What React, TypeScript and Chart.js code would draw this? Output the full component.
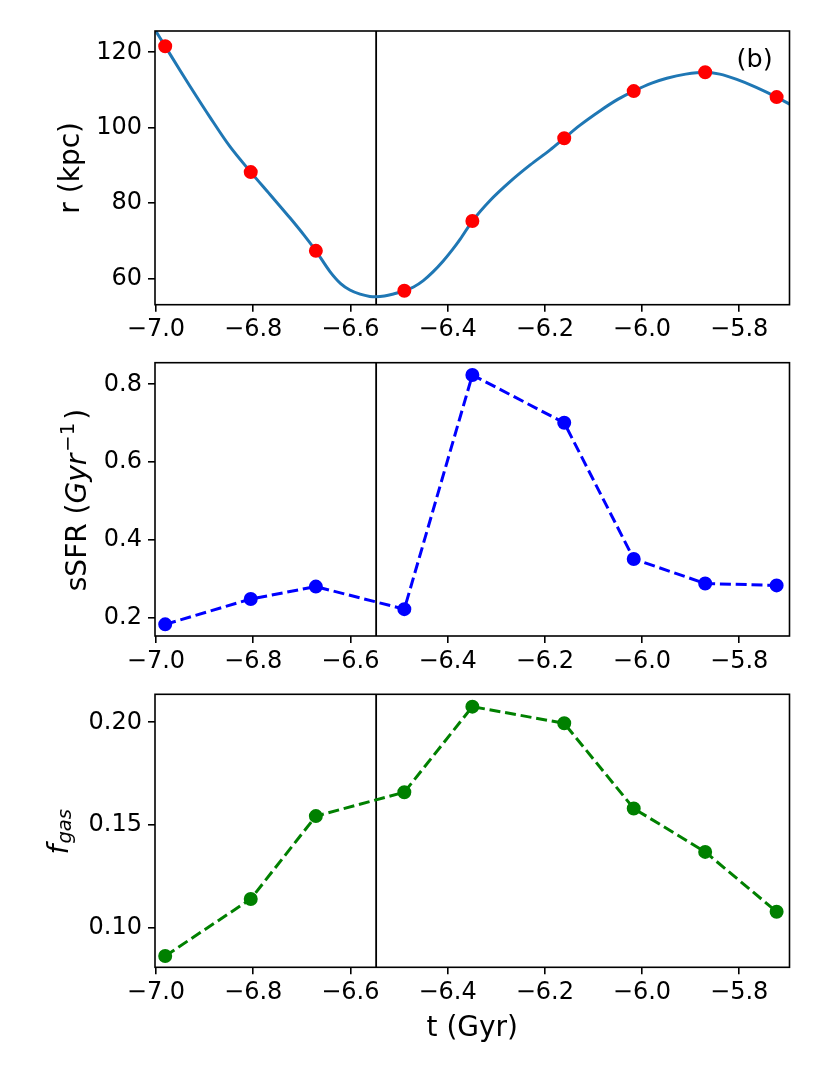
import React, { useEffect, useRef } from "react";
import { Chart, registerables } from "chart.js";

Chart.register(...registerables);

// ---------- data ----------
const tPoints = [-6.981, -6.805, -6.671, -6.489, -6.349, -6.16, -6.017, -5.87, -5.723];
const rPoints = [121.6, 88.2, 67.3, 56.7, 75.2, 97.2, 109.7, 114.7, 108.1];
const ssfrValues = [0.183, 0.248, 0.28, 0.222, 0.824, 0.701, 0.351, 0.288, 0.283];
const fgasValues = [0.0864, 0.1141, 0.1544, 0.166, 0.2076, 0.1995, 0.1581, 0.137, 0.1079];

// smooth orbit curve r(t)
const curveT = [
  -7.003, -6.981, -6.95, -6.93, -6.889, -6.848, -6.805, -6.765, -6.724, -6.695,
  -6.671, -6.642, -6.62, -6.601, -6.58, -6.56, -6.547, -6.53, -6.51, -6.489,
  -6.47, -6.45, -6.43, -6.409, -6.39, -6.374, -6.349, -6.313, -6.272, -6.23,
  -6.189, -6.16, -6.128, -6.086, -6.05, -6.017, -5.98, -5.949, -5.91, -5.87,
  -5.84, -5.805, -5.765, -5.723, -5.69,
];
const curveR = [
  126.2, 121.6, 115.1, 111.0, 102.8, 95.0, 88.2, 82.2, 76.0, 71.4,
  67.3, 61.8, 58.6, 56.9, 55.8, 55.2, 55.1, 55.3, 55.9, 56.7,
  57.7, 59.4, 61.7, 64.6, 67.6, 70.4, 75.2, 80.6, 85.6, 90.1,
  94.1, 97.2, 100.6, 104.5, 107.5, 109.7, 111.8, 113.1, 114.2, 114.7,
  114.2, 112.8, 110.7, 108.1, 105.8,
];

const xTicks = [-7.0, -6.8, -6.6, -6.4, -6.2, -6.0, -5.8];
const rTicks = [60, 80, 100, 120];
const ssfrTicks = [0.2, 0.4, 0.6, 0.8];
const fgasTicks = [0.1, 0.15, 0.2];
const vLineT = -6.547;

const X_MIN = -7.002;
const X_MAX = -5.6965;

const FONT = "'DejaVu Sans', 'Liberation Sans', sans-serif";

type Seg = { text: string; size: number; italic?: boolean; dy?: number; gap?: number };
type TextItem = { text: string; size: number; x: (a: any) => number; y: number; align: CanvasTextAlign };

interface PanelSpec {
  padTop: number;
  xAxisHeight: number;
  yMin: number;
  yMax: number;
  yTicks: number[];
  yDecimals: number;
  datasets: any[];
  ylabel: Seg[];
  ylabelX: number;
  ylabelDy: number;
  texts: TextItem[];
}

const fmt = (v: number, d: number) => v.toFixed(d).replace("-", "\u2212");

function drawRotated(ctx: CanvasRenderingContext2D, segs: Seg[], baseX: number, centerY: number) {
  ctx.save();
  ctx.translate(baseX, centerY);
  ctx.rotate(-Math.PI / 2);
  ctx.fillStyle = "#000";
  ctx.textAlign = "left";
  ctx.textBaseline = "alphabetic";
  const widths: number[] = [];
  let total = 0;
  for (const s of segs) {
    ctx.font = `${s.italic ? "italic " : ""}${s.size}px ${FONT}`;
    const w = ctx.measureText(s.text).width;
    widths.push(w);
    total += w + (s.gap || 0);
  }
  let x = -total / 2;
  segs.forEach((s, i) => {
    x += s.gap || 0;
    ctx.font = `${s.italic ? "italic " : ""}${s.size}px ${FONT}`;
    ctx.fillText(s.text, x, s.dy || 0);
    x += widths[i];
  });
  ctx.restore();
}

function makeChart(canvas: HTMLCanvasElement, p: PanelSpec) {
  const decor = {
    id: "panelDecor",
    beforeDatasetsDraw(chart: any) {
      const { ctx, chartArea, scales } = chart;
      const x = scales.x.getPixelForValue(vLineT);
      ctx.save();
      ctx.beginPath();
      ctx.strokeStyle = "#000";
      ctx.lineWidth = 1.8;
      ctx.moveTo(x, chartArea.top);
      ctx.lineTo(x, chartArea.bottom);
      ctx.stroke();
      ctx.restore();
    },
    afterDraw(chart: any) {
      const { ctx, chartArea } = chart;
      ctx.save();
      ctx.strokeStyle = "#000";
      ctx.lineWidth = 1.6;
      ctx.strokeRect(chartArea.left, chartArea.top, chartArea.right - chartArea.left, chartArea.bottom - chartArea.top);
      ctx.restore();
      drawRotated(ctx, p.ylabel, p.ylabelX, (chartArea.top + chartArea.bottom) / 2 + p.ylabelDy);
      for (const t of p.texts) {
        ctx.save();
        ctx.fillStyle = "#000";
        ctx.font = `${t.size}px ${FONT}`;
        ctx.textAlign = t.align;
        ctx.textBaseline = "alphabetic";
        ctx.fillText(t.text, t.x(chartArea), t.y);
        ctx.restore();
      }
    },
  };

  const tickGrid = {
    display: true,
    drawOnChartArea: false,
    drawTicks: true,
    tickLength: 7,
    tickWidth: 1.6,
    tickColor: "#000",
    color: "#000",
    lineWidth: 1.6,
  };

  return new Chart(canvas, {
    type: "line",
    data: { datasets: p.datasets },
    options: {
      animation: false,
      responsive: true,
      maintainAspectRatio: false,
      events: [],
      layout: { padding: { left: 0, right: 40.5, top: p.padTop, bottom: 0 } },
      plugins: {
        legend: { display: false },
        tooltip: { enabled: false },
        title: { display: false },
      },
      scales: {
        x: {
          type: "linear",
          position: "bottom",
          min: X_MIN,
          max: X_MAX,
          afterBuildTicks: (a: any) => {
            a.ticks = xTicks.map((v) => ({ value: v }));
          },
          afterFit: (a: any) => {
            a.height = p.xAxisHeight;
            a.paddingLeft = 0;
            a.paddingRight = 0;
          },
          grid: tickGrid,
          border: { display: false },
          ticks: {
            color: "#000",
            font: { family: FONT, size: 24 },
            padding: 4,
            maxRotation: 0,
            autoSkip: false,
            callback: (v: any) => fmt(Number(v), 1),
          },
        },
        y: {
          type: "linear",
          position: "left",
          min: p.yMin,
          max: p.yMax,
          afterBuildTicks: (a: any) => {
            a.ticks = p.yTicks.map((v) => ({ value: v }));
          },
          afterFit: (a: any) => {
            a.width = 155;
            a.paddingTop = 0;
            a.paddingBottom = 0;
          },
          grid: tickGrid,
          border: { display: false },
          ticks: {
            color: "#000",
            font: { family: FONT, size: 24 },
            padding: 6,
            autoSkip: false,
            callback: (v: any) => fmt(Number(v), p.yDecimals),
          },
        },
      },
    } as any,
    plugins: [decor],
  });
}

const pts = (ys: number[]) => tPoints.map((t, i) => ({ x: t, y: ys[i] }));

const markerStyle = (color: string) => ({
  pointRadius: 6,
  pointHoverRadius: 6,
  pointBackgroundColor: color,
  pointBorderColor: color,
  pointBorderWidth: 2,
  pointHoverBorderWidth: 2,
});

export default function App() {
  const ref1 = useRef<HTMLCanvasElement>(null);
  const ref2 = useRef<HTMLCanvasElement>(null);
  const ref3 = useRef<HTMLCanvasElement>(null);

  useEffect(() => {
    const c1 = makeChart(ref1.current!, {
      padTop: 31,
      xAxisHeight: 35.3,
      yMin: 53.0,
      yMax: 125.65,
      yTicks: rTicks,
      yDecimals: 0,
      datasets: [
        {
          type: "line",
          data: pts(rPoints),
          showLine: false,
          borderColor: "#ff0000",
          ...markerStyle("#ff0000"),
        },
        {
          type: "line",
          data: curveT.map((t, i) => ({ x: t, y: curveR[i] })),
          borderColor: "#1f77b4",
          borderWidth: 3,
          pointRadius: 0,
          cubicInterpolationMode: "monotone",
          fill: false,
          clip: 0,
        },
      ],
      ylabel: [{ text: "r (kpc)", size: 28 }],
      ylabelX: 79,
      ylabelDy: 0,
      texts: [{ text: "(b)", size: 25.5, x: () => 772.7, y: 66.6, align: "right" }],
    });

    const c2 = makeChart(ref2.current!, {
      padTop: 22.7,
      xAxisHeight: 44,
      yMin: 0.153,
      yMax: 0.8555,
      yTicks: ssfrTicks,
      yDecimals: 1,
      datasets: [
        {
          type: "line",
          data: pts(ssfrValues),
          borderColor: "#0000ff",
          borderWidth: 3,
          borderDash: [11, 4.8],
          tension: 0,
          fill: false,
          ...markerStyle("#0000ff"),
        },
      ],
      ylabel: [
        { text: "sSFR (", size: 28 },
        { text: "Gyr", size: 28, italic: true },
        { text: "\u22121", size: 19.6, dy: -12, gap: 2 },
        { text: ")", size: 28, gap: 3 },
      ],
      ylabelX: 86.3,
      ylabelDy: 0.7,
      texts: [],
    });

    const c3 = makeChart(ref3.current!, {
      padTop: 14.3,
      xAxisHeight: 107.7,
      yMin: 0.0809,
      yMax: 0.2136,
      yTicks: fgasTicks,
      yDecimals: 2,
      datasets: [
        {
          type: "line",
          data: pts(fgasValues),
          borderColor: "#008000",
          borderWidth: 3,
          borderDash: [11, 4.8],
          tension: 0,
          fill: false,
          ...markerStyle("#008000"),
        },
      ],
      ylabel: [
        { text: "f", size: 28, italic: true },
        { text: "gas", size: 19.6, italic: true, dy: 2.5, gap: 1 },
      ],
      ylabelX: 68,
      ylabelDy: 0.9,
      texts: [
        {
          text: "t (Gyr)",
          size: 28,
          x: (a: any) => (a.left + a.right) / 2,
          y: 356,
          align: "center",
        },
      ],
    });

    return () => {
      c1.destroy();
      c2.destroy();
      c3.destroy();
    };
  }, []);

  const box = (top: number, height: number): React.CSSProperties => ({
    position: "absolute",
    left: 0,
    top,
    width: 830,
    height,
  });

  return (
    <div style={{ position: "absolute", left: 0, top: 0, width: 830, height: 1075, background: "#fff" }}>
      <div style={box(0, 340)}>
        <canvas ref={ref1} />
      </div>
      <div style={box(340, 340)}>
        <canvas ref={ref2} />
      </div>
      <div style={box(680, 395)}>
        <canvas ref={ref3} />
      </div>
    </div>
  );
}
